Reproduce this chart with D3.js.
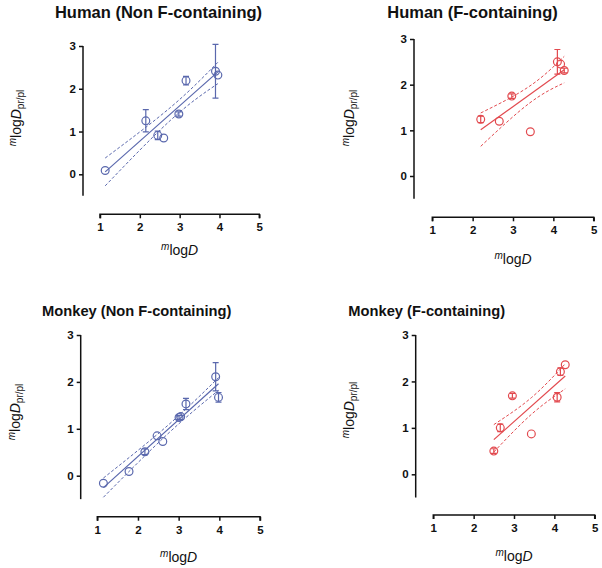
<!DOCTYPE html>
<html><head><meta charset="utf-8">
<script src="https://cdn.jsdelivr.net/npm/d3@7"></script>
<style>body{margin:0;background:#fff} svg{display:block}</style>
</head><body>
<svg id="c" width="602" height="568"></svg>
<script>
// ---------- data ----------
const xTicks = [1, 2, 3, 4, 5];
const yTicks = [0, 1, 2, 3];
const titles = ["Human (Non F-containing)", "Human (F-containing)", "Monkey (Non F-containing)", "Monkey (F-containing)"];

const humanNonF_x   = [1.13, 2.15, 2.45, 2.60, 2.98, 3.16, 3.90, 3.96];
const humanNonF_y   = [0.09, 1.25, 0.91, 0.85, 1.41, 2.19, 2.41, 2.32];
const humanNonF_err = [0, 0.26, 0.10, 0, 0.05, 0.10, 0.63, 0];
const humanNonF_bandX = [1.13, 2.79, 3.96];
const humanNonF_upper = [0.38, 1.58, 2.62];
const humanNonF_lower = [-0.27, 1.28, 2.12];

const humanF_x   = [2.20, 2.66, 2.97, 3.43, 4.10, 4.18, 4.27];
const humanF_y   = [1.24, 1.20, 1.75, 0.97, 2.50, 2.45, 2.31];
const humanF_err = [0.07, 0, 0.05, 0, 0.27, 0, 0.05];
const humanF_bandX = [2.20, 3.40, 4.27];
const humanF_upper = [1.38, 1.96, 2.62];
const humanF_lower = [0.65, 1.59, 2.04];

const monkeyNonF_x   = [1.15, 1.78, 2.17, 2.47, 2.61, 3.01, 3.05, 3.18, 3.91, 3.98];
const monkeyNonF_y   = [-0.16, 0.09, 0.51, 0.85, 0.73, 1.24, 1.26, 1.53, 2.11, 1.67];
const monkeyNonF_err = [0, 0, 0.06, 0, 0, 0.04, 0, 0.12, 0.30, 0.10];
const monkeyNonF_bandX = [1.15, 2.73, 3.98];
const monkeyNonF_upper = [-0.05, 1.07, 2.09];
const monkeyNonF_lower = [-0.46, 0.89, 1.82];

const monkeyF_x   = [2.50, 2.66, 2.96, 3.43, 4.07, 4.15, 4.27];
const monkeyF_y   = [0.50, 1.00, 1.69, 0.87, 1.66, 2.21, 2.36];
const monkeyF_err = [0.05, 0.08, 0.05, 0, 0.10, 0.08, 0];
const monkeyF_bandX = [2.50, 3.43, 4.27];
const monkeyF_upper = [1.07, 1.65, 2.38];
const monkeyF_lower = [0.48, 1.29, 1.84];

const blue = "#5a68ad", red = "#e24a4f";

// ---------- layout ----------
const panels = [
  {title: titles[0], xs: humanNonF_x, ys: humanNonF_y, es: humanNonF_err, bx: humanNonF_bandX, bu: humanNonF_upper, bl: humanNonF_lower, color: blue,
   x1px: 100, x5px: 259.3, axY: 214.3, y0px: 174.3, y3px: 46, axX: 83, tx: 158.5, ty: 17.5, ts: 16.5, ylx: 21, yly: 118, xly: 255},
  {title: titles[1], xs: humanF_x, ys: humanF_y, es: humanF_err, bx: humanF_bandX, bu: humanF_upper, bl: humanF_lower, color: red,
   x1px: 432.3, x5px: 593.7, axY: 217.3, y0px: 176, y3px: 39, axX: 414, tx: 472.5, ty: 17.5, ts: 16.5, ylx: 354, yly: 118, xly: 264},
  {title: titles[2], xs: monkeyNonF_x, ys: monkeyNonF_y, es: monkeyNonF_err, bx: monkeyNonF_bandX, bu: monkeyNonF_upper, bl: monkeyNonF_lower, color: blue,
   x1px: 97.3, x5px: 260, axY: 516.7, y0px: 475.7, y3px: 335, axX: 80.7, tx: 136.7, ty: 316, ts: 14.7, ylx: 20, yly: 412, xly: 561.7},
  {title: titles[3], xs: monkeyF_x, ys: monkeyF_y, es: monkeyF_err, bx: monkeyF_bandX, bu: monkeyF_upper, bl: monkeyF_lower, color: red,
   x1px: 433.3, x5px: 594.7, axY: 515, y0px: 474.3, y3px: 335, axX: 415.7, tx: 426.7, ty: 316, ts: 14.7, ylx: 354, yly: 410, xly: 561}
];

const svg = d3.select("#c");
const FONT = "'Liberation Sans', Arial, Helvetica, sans-serif";

function ols(xs, ys) {
  const mx = d3.mean(xs), my = d3.mean(ys);
  let sxy = 0, sxx = 0;
  xs.forEach((x, i) => { sxy += (x - mx) * (ys[i] - my); sxx += (x - mx) * (x - mx); });
  const b = sxy / sxx;
  return {b, a: my - b * mx};
}

panels.forEach(p => {
  const g = svg.append("g");
  const x = d3.scaleLinear().domain([1, 5]).range([p.x1px, p.x5px]);
  const y = d3.scaleLinear().domain([0, 3]).range([p.y0px, p.y3px]);

  // title
  g.append("text").attr("x", p.tx).attr("y", p.ty).attr("text-anchor", "middle")
    .attr("font-family", FONT).attr("font-weight", "bold").attr("font-size", p.ts).attr("fill", "#111")
    .text(p.title);

  // x axis
  const xa = g.append("g").attr("transform", `translate(0,${p.axY})`)
    .call(d3.axisBottom(x).tickValues(xTicks).tickSize(4).tickPadding(5).tickFormat(d3.format("d")));
  xa.select(".domain").attr("stroke", "#111").attr("stroke-width", 1.5).attr("d", `M${x(1)},4V0H${x(5)}V4`);
  xa.selectAll(".tick line").attr("stroke", "#111").attr("stroke-width", 1.5);
  xa.selectAll(".tick text").attr("font-family", FONT).attr("font-weight", "bold").attr("font-size", 11.5).attr("fill", "#111");

  // y axis
  const ya = g.append("g").attr("transform", `translate(${p.axX},0)`)
    .call(d3.axisLeft(y).tickValues(yTicks).tickSize(4).tickPadding(3).tickFormat(d3.format("d")));
  ya.select(".domain").attr("stroke", "#111").attr("stroke-width", 1.5).attr("d", `M0,${y(3)}V${y(-0.5)}`);
  ya.selectAll(".tick line").attr("stroke", "#111").attr("stroke-width", 1.5);
  ya.selectAll(".tick text").attr("font-family", FONT).attr("font-weight", "bold").attr("font-size", 11.5).attr("fill", "#111");

  // x label
  const xl = g.append("text").attr("x", (x(1) + x(5)) / 2).attr("y", p.xly).attr("text-anchor", "middle")
    .attr("font-family", FONT).attr("font-size", 14).attr("fill", "#111");
  xl.append("tspan").attr("font-style", "italic").attr("font-size", 10).attr("dy", -5).text("m");
  xl.append("tspan").attr("dy", 5).text("log");
  xl.append("tspan").attr("font-style", "italic").text("D");

  // y label
  const yl = g.append("text").attr("transform", `translate(${p.ylx},${p.yly}) rotate(-90)`).attr("text-anchor", "middle")
    .attr("font-family", FONT).attr("font-size", 14).attr("fill", "#111");
  yl.append("tspan").attr("font-style", "italic").attr("font-size", 10).attr("dy", -5).text("m");
  yl.append("tspan").attr("dy", 5).text("log");
  yl.append("tspan").attr("font-style", "italic").text("D");
  yl.append("tspan").attr("font-size", 10).attr("dy", 3).text("pr/pl");

  // confidence bands
  const bandLine = d3.line().curve(d3.curveNatural).x(d => x(d[0])).y(d => y(d[1]));
  [p.bu, p.bl].forEach(arr => {
    g.append("path").attr("d", bandLine(p.bx.map((v, i) => [v, arr[i]])))
      .attr("fill", "none").attr("stroke", p.color).attr("stroke-width", 1).attr("stroke-dasharray", "3,2");
  });

  // regression line
  const fit = ols(p.xs, p.ys);
  const [xmin, xmax] = d3.extent(p.xs);
  g.append("line").attr("x1", x(xmin)).attr("y1", y(fit.a + fit.b * xmin))
    .attr("x2", x(xmax)).attr("y2", y(fit.a + fit.b * xmax))
    .attr("stroke", p.color).attr("stroke-width", 1.2);

  // error bars
  const pts = p.xs.map((v, i) => ({x: v, y: p.ys[i], e: p.es[i]}));
  pts.filter(d => d.e > 0).forEach(d => {
    const cx = x(d.x);
    g.append("path").attr("d",
      `M${cx},${y(d.y - d.e)}V${y(d.y + d.e)}M${cx - 3},${y(d.y + d.e)}H${cx + 3}M${cx - 3},${y(d.y - d.e)}H${cx + 3}`)
      .attr("fill", "none").attr("stroke", p.color).attr("stroke-width", 1.2);
  });

  // points
  g.selectAll("circle.pt").data(pts).join("circle").attr("class", "pt")
    .attr("cx", d => x(d.x)).attr("cy", d => y(d.y)).attr("r", 3.9)
    .attr("fill", "none").attr("stroke", p.color).attr("stroke-width", 1.2);
});
</script>
</body></html>
